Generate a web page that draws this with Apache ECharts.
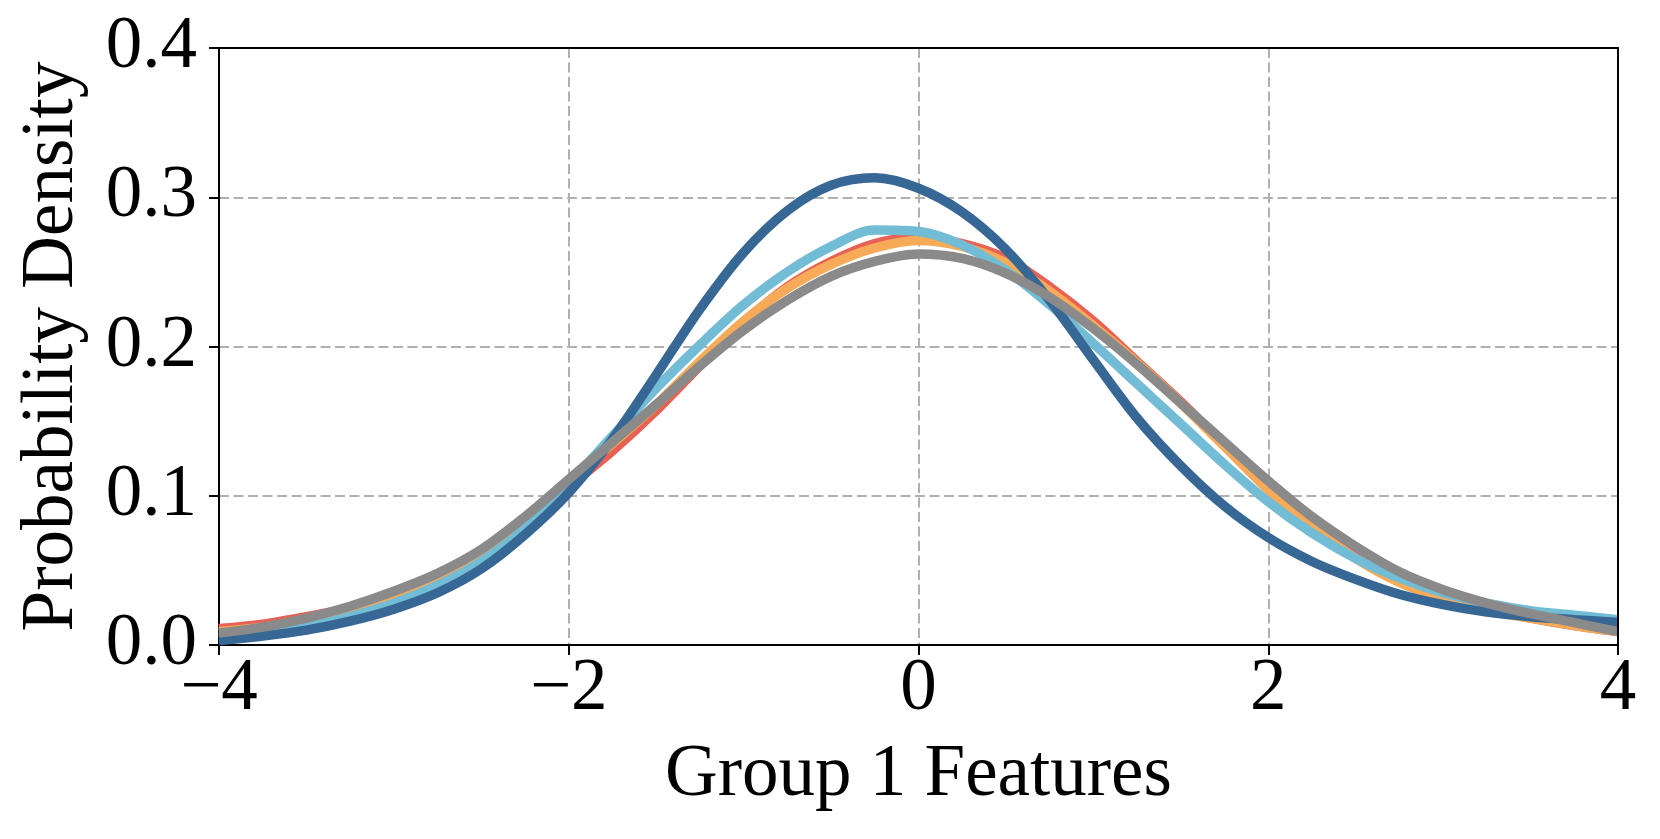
<!DOCTYPE html>
<html>
<head>
    <meta charset="utf-8">
    <script src="https://cdn.jsdelivr.net/npm/echarts@6/dist/echarts.min.js"></script>
    <style>
        html, body { margin: 0; padding: 0; background: #fff; }
    </style>
</head>
<body>
    <div id="main" style="width:1660px;height:839px;"></div>
    <script type="text/javascript">
        // x positions of the density estimates
        var xs = [-4, -3.75, -3.5, -3.25, -3, -2.75, -2.5, -2.25, -2, -1.75, -1.5, -1.25, -1, -0.75, -0.5, -0.25,
                  0, 0.25, 0.5, 0.75, 1, 1.25, 1.5, 1.75, 2, 2.25, 2.5, 2.75, 3, 3.25, 3.5, 3.75, 4];

        var redCurve = [0.011, 0.014, 0.019, 0.025, 0.034, 0.046, 0.061, 0.081, 0.106, 0.130, 0.157, 0.187, 0.216, 0.240, 0.257, 0.269,
                        0.273, 0.269, 0.259, 0.240, 0.217, 0.190, 0.163, 0.134, 0.105, 0.081, 0.060, 0.044, 0.032, 0.024, 0.018, 0.013, 0.009];
        var orangeCurve = [0.009, 0.012, 0.017, 0.024, 0.034, 0.046, 0.062, 0.084, 0.110, 0.135, 0.161, 0.190, 0.217, 0.239, 0.255, 0.266,
                           0.271, 0.267, 0.256, 0.237, 0.214, 0.189, 0.162, 0.133, 0.104, 0.079, 0.058, 0.042, 0.031, 0.023, 0.018, 0.013, 0.009];
        var lightBlueCurve = [0.005, 0.008, 0.012, 0.019, 0.028, 0.040, 0.056, 0.078, 0.108, 0.140, 0.172, 0.201, 0.228, 0.250, 0.267, 0.278,
                              0.277, 0.268, 0.251, 0.228, 0.202, 0.175, 0.148, 0.121, 0.096, 0.075, 0.058, 0.045, 0.035, 0.028, 0.023, 0.020, 0.017];
        var darkBlueCurve = [0.003, 0.006, 0.010, 0.016, 0.024, 0.035, 0.051, 0.074, 0.102, 0.138, 0.181, 0.225, 0.263, 0.291, 0.308, 0.313,
                             0.306, 0.290, 0.265, 0.231, 0.191, 0.152, 0.120, 0.093, 0.072, 0.056, 0.044, 0.034, 0.027, 0.022, 0.019, 0.017, 0.015];
        var grayCurve = [0.008, 0.012, 0.018, 0.026, 0.036, 0.048, 0.064, 0.086, 0.111, 0.136, 0.161, 0.187, 0.211, 0.231, 0.247, 0.257,
                         0.262, 0.259, 0.249, 0.233, 0.212, 0.188, 0.162, 0.136, 0.110, 0.086, 0.066, 0.049, 0.037, 0.028, 0.021, 0.015, 0.009];

        var curves = [redCurve, orangeCurve, lightBlueCurve, darkBlueCurve, grayCurve];
        var colors = ['#e76254', '#f7aa58', '#72bcd5', '#376795', '#8a8a8a'];

        var xLabel = 'Group 1 Features';
        var yLabel = 'Probability Density';

        function pairs(ys) {
            var res = [];
            for (var i = 0; i < xs.length; i++) {
                res.push([xs[i], ys[i]]);
            }
            return res;
        }

        var font = '"Liberation Serif", "DejaVu Serif", serif';
        var myChart = echarts.init(document.getElementById('main'));

        var series = [];
        for (var i = 0; i < curves.length; i++) {
            series.push({
                type: 'line',
                data: pairs(curves[i]),
                smooth: 0.33,
                showSymbol: false,
                lineStyle: { color: colors[i], width: 9.5, cap: 'butt' },
                z: 3 + i
            });
        }

        var dash = { color: '#b0b0b0', width: 2, type: [10, 4.5] };
        var black = { color: '#000', width: 2 };

        var option = {
            animation: false,
            backgroundColor: '#fff',
            grid: { left: 219, right: 42, top: 48, bottom: 194 },
            xAxis: [{
                type: 'value', min: -4, max: 4, interval: 2,
                name: xLabel, nameLocation: 'middle', nameGap: 94,
                nameTextStyle: { fontFamily: font, fontSize: 73, color: '#000' },
                axisLine: { show: true, onZero: false, lineStyle: black },
                axisTick: { show: true, length: 10, lineStyle: black },
                axisLabel: {
                    fontFamily: font, fontSize: 73, color: '#000', margin: 8,
                    formatter: function (v) { return String(v).replace('-', '\u2212'); }
                },
                splitLine: { show: true, lineStyle: dash }
            }, {
                // top frame line
                type: 'value', min: -4, max: 4, position: 'top', z: 10,
                axisLine: { show: true, onZero: false, lineStyle: black },
                axisTick: { show: false }, axisLabel: { show: false }, splitLine: { show: false }
            }],
            yAxis: [{
                type: 'value', min: 0, max: 0.4, interval: 0.1,
                name: yLabel, nameLocation: 'middle', nameGap: 130,
                nameTextStyle: { fontFamily: font, fontSize: 73, color: '#000' },
                axisLine: { show: true, onZero: false, lineStyle: black },
                axisTick: { show: true, length: 10, lineStyle: black },
                axisLabel: {
                    fontFamily: font, fontSize: 73, color: '#000', margin: 22,
                    formatter: function (v) { return v.toFixed(1); }
                },
                splitLine: { show: true, lineStyle: dash }
            }, {
                // right frame line
                type: 'value', min: 0, max: 0.4, position: 'right', z: 10,
                axisLine: { show: true, onZero: false, lineStyle: black },
                axisTick: { show: false }, axisLabel: { show: false }, splitLine: { show: false }
            }],
            series: series
        };

        myChart.setOption(option);
    </script>
</body>
</html>
